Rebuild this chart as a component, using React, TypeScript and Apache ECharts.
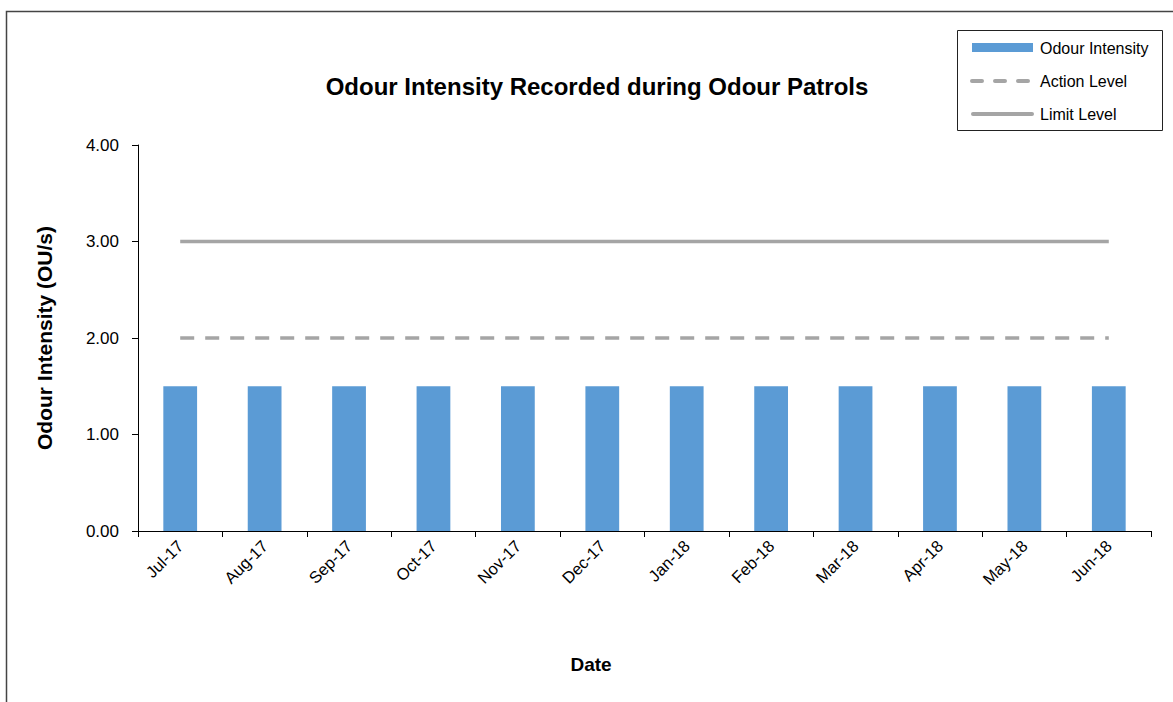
import React, { useEffect, useRef } from "react";
import * as echarts from "echarts";

const categories = ["Jul-17", "Aug-17", "Sep-17", "Oct-17", "Nov-17", "Dec-17", "Jan-18", "Feb-18", "Mar-18", "Apr-18", "May-18", "Jun-18"];
const odourIntensity = [1.5, 1.5, 1.5, 1.5, 1.5, 1.5, 1.5, 1.5, 1.5, 1.5, 1.5, 1.5];
const actionLevel = [2, 2, 2, 2, 2, 2, 2, 2, 2, 2, 2, 2];
const limitLevel = [3, 3, 3, 3, 3, 3, 3, 3, 3, 3, 3, 3];
const legendNames = ["Odour Intensity", "Action Level", "Limit Level"];

const FONT = "'Liberation Sans', Arial, sans-serif";
const BAR = "#5B9BD5";
const GREY = "#A5A5A5";

export default function App() {
  const ref = useRef<HTMLDivElement>(null);
  useEffect(() => {
    const chart = echarts.init(ref.current!, null, { renderer: "svg" });
    const legendText = (name: string, y: number) => ({
      type: "text",
      x: 1040,
      y,
      style: { text: name, fontFamily: FONT, fontSize: 16, fill: "#000", textVerticalAlign: "middle", verticalAlign: "middle" },
      silent: true,
    });
    chart.setOption({
      animation: false,
      backgroundColor: "#fff",
      textStyle: { fontFamily: FONT },
      title: {
        text: "Odour Intensity Recorded during Odour Patrols",
        left: 592,
        top: 69,
        textAlign: "center",
        textStyle: { fontFamily: FONT, fontSize: 24, fontWeight: "bold", color: "#000" },
      },
      graphic: [
        {
          type: "rect",
          shape: { x: 6.5, y: 11.5, width: 1175, height: 700 },
          style: { fill: "none", stroke: "#444", lineWidth: 1.5 },
          silent: true,
        },
        {
          type: "rect",
          shape: { x: 957.5, y: 30.5, width: 205, height: 100 },
          style: { fill: "#fff", stroke: "#222", lineWidth: 1 },
          silent: true,
        },
        {
          type: "rect",
          shape: { x: 972, y: 43, width: 61, height: 9 },
          style: { fill: BAR },
          silent: true,
        },
        {
          type: "line",
          shape: { x1: 972, y1: 81, x2: 1033, y2: 81 },
          style: { stroke: GREY, lineWidth: 4, lineDash: [10, 13], lineCap: "round" },
          silent: true,
        },
        {
          type: "line",
          shape: { x1: 973, y1: 114, x2: 1032, y2: 114 },
          style: { stroke: GREY, lineWidth: 4, lineCap: "round" },
          silent: true,
        },
        legendText(legendNames[0], 48),
        legendText(legendNames[1], 81),
        legendText(legendNames[2], 114),
        {
          type: "text",
          x: 591,
          y: 664,
          style: { text: "Date", fontFamily: FONT, fontSize: 19, fontWeight: "bold", fill: "#000", textAlign: "center", align: "center", verticalAlign: "middle", textVerticalAlign: "middle" },
          silent: true,
        },
      ],
      grid: { left: 138, right: 22, top: 145, bottom: 171, containLabel: false },
      xAxis: {
        type: "category",
        data: categories,
        boundaryGap: true,
        axisLine: { lineStyle: { color: "#000", width: 1 } },
        axisTick: { show: true, alignWithLabel: false, length: 6, lineStyle: { color: "#000" } },
        axisLabel: { rotate: 45, fontSize: 16.5, color: "#000", fontFamily: FONT, margin: 12, interval: 0 },
      },
      yAxis: {
        type: "value",
        min: 0,
        max: 4,
        interval: 1,
        axisLine: { show: true, lineStyle: { color: "#000", width: 1 } },
        axisTick: { show: true, length: 6, lineStyle: { color: "#000" } },
        splitLine: { show: false },
        axisLabel: {
          fontSize: 17,
          color: "#000",
          fontFamily: FONT,
          margin: 19,
          formatter: (v: number) => v.toFixed(2),
        },
        name: "Odour Intensity (OU/s)",
        nameLocation: "middle",
        nameGap: 83,
        nameTextStyle: { fontFamily: FONT, fontSize: 21, fontWeight: "bold", color: "#000" },
      },
      series: [
        {
          name: legendNames[0],
          type: "bar",
          data: odourIntensity,
          barWidth: "40%",
          itemStyle: { color: BAR },
        },
        {
          name: legendNames[1],
          type: "line",
          data: actionLevel,
          symbol: "none",
          lineStyle: { color: GREY, width: 3.5, type: [14, 11] },
          itemStyle: { color: GREY },
        },
        {
          name: legendNames[2],
          type: "line",
          data: limitLevel,
          symbol: "none",
          lineStyle: { color: GREY, width: 3.5 },
          itemStyle: { color: GREY },
        },
      ],
    });
    return () => chart.dispose();
  }, []);
  return (
    <div
      ref={ref}
      style={{ position: "absolute", left: 0, top: 0, width: 1173, height: 702 }}
    />
  );
}
